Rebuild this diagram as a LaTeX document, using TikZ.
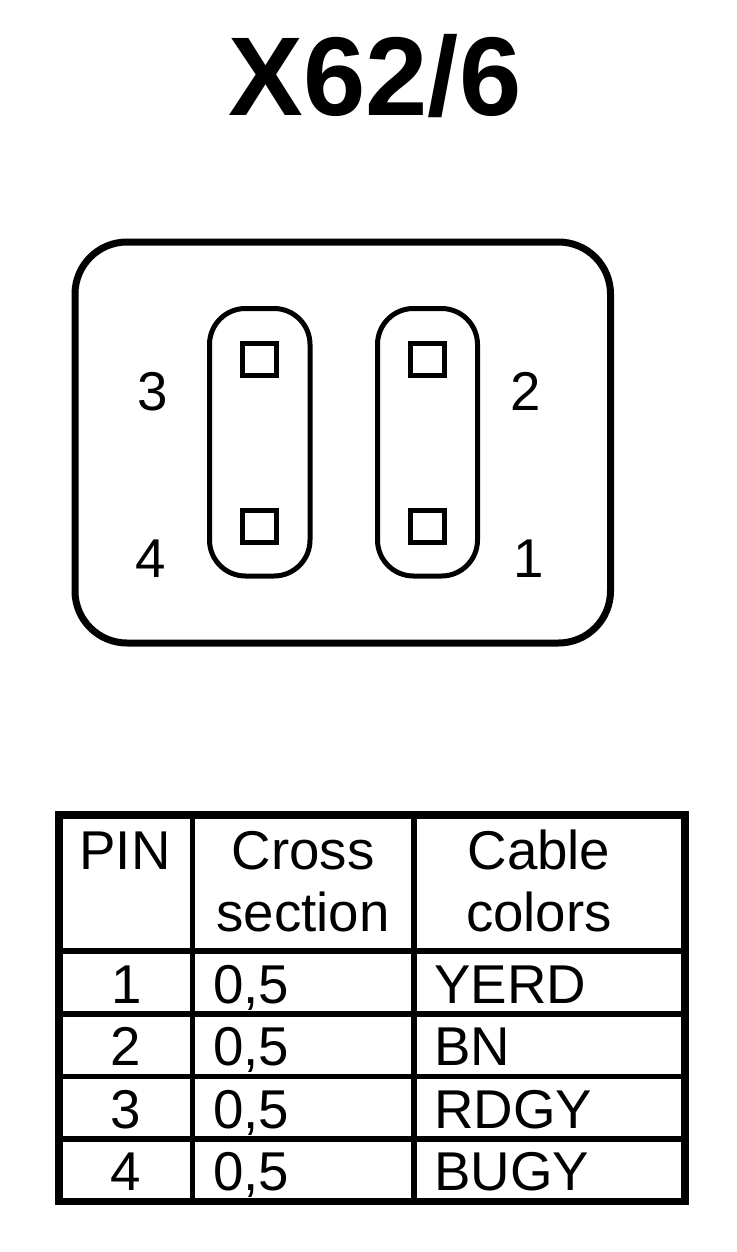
\documentclass[tikz,border=0pt]{standalone}
\usepackage{fontspec}
\setmainfont{Liberation Sans}
\begin{document}
\begin{tikzpicture}[x=0.75pt,y=-0.75pt,
  outline/.style={draw=black,line width=7*0.75pt},
  tableframe/.style={draw=black,line width=7.5*0.75pt},
  thin box/.style={draw=black,line width=5*0.75pt},
  rule/.style={draw=black,line width=5.5*0.75pt},
  pinlabel/.style={font=\fontsize{41}{41}\selectfont,inner sep=0pt,anchor=base},
  celltext/.style={font=\fontsize{41}{41}\selectfont,inner sep=0pt,anchor=base},
  cellleft/.style={font=\fontsize{41}{41}\selectfont,inner sep=0pt,anchor=base west}]
\useasboundingbox (0,0) rectangle (736,1252);
\fill[white] (0,0) rectangle (736,1252);
\node[font=\fontsize{84}{84}\selectfont\bfseries,inner sep=0pt,anchor=base] (title) at (375,116) {X62/6};
\draw[outline,rounded corners=52*0.75pt] (75,242) rectangle (610.5,643);
\draw[thin box,rounded corners=36*0.75pt] (209.5,308.5) rectangle (310,576);
\draw[thin box,rounded corners=36*0.75pt] (377.5,308.5) rectangle (477.5,576);
\draw[thin box] (242.5,343) rectangle (276.5,375.5);
\draw[thin box] (410,343) rectangle (444,375.5);
\draw[thin box] (242.5,510) rectangle (276.5,542.5);
\draw[thin box] (410,510) rectangle (444,542.5);
\node[pinlabel] (p3) at (153,410) {3};
\node[pinlabel] (p4) at (151,577) {4};
\node[pinlabel] (p2) at (526,410) {2};
\node[pinlabel] (p1) at (529,577) {1};
\draw[rule] (192.5,815) -- (192.5,1201);
\draw[rule] (414,815) -- (414,1201);
\draw[rule] (59,951) -- (685,951);
\draw[rule] (59,1014) -- (685,1014);
\draw[rule] (59,1076.5) -- (685,1076.5);
\draw[rule] (59,1139) -- (685,1139);
\draw[tableframe] (59,815) rectangle (685,1201.5);
\node[celltext] (h1) at (125,869) {PIN};
\node[celltext] (h2a) at (303,869) {Cross};
\node[celltext] (h2b) at (303,931) {section};
\node[celltext] (h3a) at (539,869) {Cable};
\node[celltext] (h3b) at (539,931) {colors};
\node[celltext] (r1a) at (126.5,1003) {1};
\node[celltext] (r2a) at (125.5,1065) {2};
\node[celltext] (r3a) at (125.5,1128) {3};
\node[celltext] (r4a) at (125.5,1190) {4};
\node[cellleft] (r1b) at (213,1003) {0,5};
\node[cellleft] (r2b) at (213,1065) {0,5};
\node[cellleft] (r3b) at (213,1128) {0,5};
\node[cellleft] (r4b) at (213,1190) {0,5};
\node[cellleft] (r1c) at (434,1003) {YERD};
\node[cellleft] (r2c) at (434,1065) {BN};
\node[cellleft] (r3c) at (434,1128) {RDGY};
\node[cellleft] (r4c) at (434,1190) {BUGY};
\end{tikzpicture}
\end{document}
